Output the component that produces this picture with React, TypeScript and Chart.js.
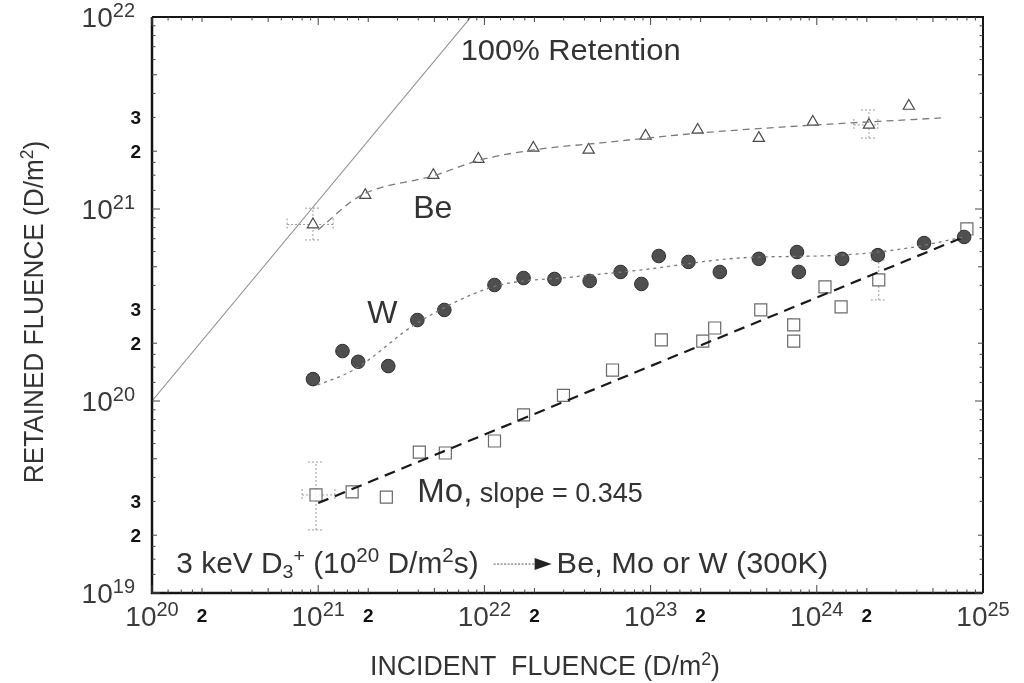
import React, { useEffect, useRef } from "react";
import { Chart, registerables } from "chart.js";

Chart.register(...registerables);

// ---------- data ----------
const beX = [9.3e20, 1.92e21, 4.93e21, 9.2e21, 1.97e22, 4.24e22, 9.33e22, 1.92e23, 4.48e23, 9.46e23, 2.06e24, 3.58e24];
const beY = [8.3e20, 1.18e21, 1.5e21, 1.82e21, 2.08e21, 2.03e21, 2.4e21, 2.58e21, 2.34e21, 2.84e21, 2.74e21, 3.44e21];

const wX = [9.3e20, 1.4e21, 1.74e21, 2.64e21, 3.95e21, 5.74e21, 1.15e22, 1.72e22, 2.64e22, 4.3e22, 6.6e22, 8.8e22, 1.12e23, 1.69e23, 2.61e23, 4.48e23, 7.6e23, 7.8e23, 1.42e24, 2.33e24, 4.42e24, 7.7e24];
const wY = [1.3e20, 1.82e20, 1.6e20, 1.52e20, 2.64e20, 2.98e20, 4.02e20, 4.37e20, 4.32e20, 4.22e20, 4.7e20, 4.07e20, 5.69e20, 5.3e20, 4.7e20, 5.5e20, 5.97e20, 4.7e20, 5.5e20, 5.75e20, 6.65e20, 7.15e20];

const moX = [9.7e20, 1.6e21, 2.57e21, 4.06e21, 5.82e21, 1.15e22, 1.72e22, 2.99e22, 5.9e22, 1.16e23, 2.06e23, 2.43e23, 4.6e23, 7.26e23, 7.26e23, 1.12e24, 1.4e24, 2.36e24, 8.0e24];
const moY = [3.24e19, 3.36e19, 3.16e19, 5.42e19, 5.36e19, 6.19e19, 8.46e19, 1.07e20, 1.45e20, 2.08e20, 2.05e20, 2.4e20, 2.98e20, 2.49e20, 2.05e20, 3.93e20, 3.09e20, 4.27e20, 7.87e20];

// fitted curves
const beFitX = [1.0e21, 1.79e21, 4.93e21, 9.46e21, 1.97e22, 5.0e22, 2.0e23, 8.0e23, 5.58e24];
const beFitY = [7.8e20, 1.17e21, 1.49e21, 1.8e21, 2.03e21, 2.21e21, 2.49e21, 2.71e21, 2.98e21];

const wFitX = [9.9e20, 1.63e21, 3.95e21, 1.13e22, 3.44e22, 8.7e22, 3.48e23, 1.4e24, 3.53e24, 7.7e24];
const wFitY = [1.21e20, 1.45e20, 2.55e20, 3.93e20, 4.43e20, 4.81e20, 5.56e20, 5.75e20, 6.26e20, 7.15e20];

const moFitX = [1.0e21, 7.9e24];
const moFitY = [2.94e19, 7.23e20];

const retentionX = [1.0e20, 8.3e21];
const retentionY = [1.0e20, 1.0e22];

// error bars: [x, y, xLo, xHi, yLo, yHi]
const errorBars = [
  [9.3e20, 8.3e20, 6.5e20, 1.23e21, 6.9e20, 1.01e21],
  [9.7e20, 3.24e19, 8.0e20, 1.26e21, 2.13e19, 4.81e19],
  [2.06e24, 2.74e21, 1.67e24, 2.33e24, 2.34e21, 3.28e21],
  [2.36e24, 4.27e20, 2.2e24, 2.5e24, 3.36e20, 5.42e20],
];

// axis tick labels
const xDecades = [20, 21, 22, 23, 24, 25];
const xTwoLabels = [20, 21, 22, 23, 24];
const yDecades = [19, 20, 21, 22];
const yMinorLabels = [
  [19, 3], [19, 2], [20, 3], [20, 2], [21, 3], [21, 2],
];

const xTitle = "INCIDENT  FLUENCE (D/m";
const yTitle = "RETAINED FLUENCE (D/m";

const FAM = '"Liberation Sans", Arial, Helvetica, sans-serif';

type Seg = { t: string; s: number; dy?: number; b?: boolean };

function segFont(g: Seg) {
  return `${g.b ? "bold " : ""}${g.s}px ${FAM}`;
}
function richWidth(ctx: CanvasRenderingContext2D, segs: Seg[]) {
  let w = 0;
  for (const g of segs) {
    ctx.font = segFont(g);
    w += ctx.measureText(g.t).width;
  }
  return w;
}
function drawRich(
  ctx: CanvasRenderingContext2D,
  segs: Seg[],
  x: number,
  y: number,
  align: "left" | "center" | "right",
  sx = 1
) {
  const w = richWidth(ctx, segs) * sx;
  const start = align === "center" ? x - w / 2 : align === "right" ? x - w : x;
  ctx.save();
  ctx.textAlign = "left";
  ctx.textBaseline = "alphabetic";
  ctx.translate(start, y);
  ctx.scale(sx, 1);
  let px = 0;
  for (const g of segs) {
    ctx.font = segFont(g);
    ctx.fillText(g.t, px, g.dy || 0);
    px += ctx.measureText(g.t).width;
  }
  ctx.restore();
  return w;
}

const pts = (xs: number[], ys: number[]) => xs.map((x, i) => ({ x, y: ys[i] }));

const decorPlugin = {
  id: "decor",
  beforeDatasetsDraw(chart: any) {
    const ctx: CanvasRenderingContext2D = chart.ctx;
    const xs = chart.scales.x;
    const ys = chart.scales.y;
    ctx.save();
    ctx.strokeStyle = "#9a9a9a";
    ctx.lineWidth = 1;
    ctx.setLineDash([2, 2]);
    for (const e of errorBars) {
      const [x, y, xLo, xHi, yLo, yHi] = e;
      const px = xs.getPixelForValue(x);
      const py = ys.getPixelForValue(y);
      const pxl = xs.getPixelForValue(xLo);
      const pxh = xs.getPixelForValue(xHi);
      const pyl = ys.getPixelForValue(yLo);
      const pyh = ys.getPixelForValue(yHi);
      ctx.beginPath();
      ctx.moveTo(px, pyl);
      ctx.lineTo(px, pyh);
      ctx.moveTo(pxl, py);
      ctx.lineTo(pxh, py);
      ctx.moveTo(px - 8, pyl);
      ctx.lineTo(px + 8, pyl);
      ctx.moveTo(px - 8, pyh);
      ctx.lineTo(px + 8, pyh);
      ctx.moveTo(pxl, py - 6);
      ctx.lineTo(pxl, py + 6);
      ctx.moveTo(pxh, py - 6);
      ctx.lineTo(pxh, py + 6);
      ctx.stroke();
    }
    ctx.restore();
  },
  afterDraw(chart: any) {
    const ctx: CanvasRenderingContext2D = chart.ctx;
    const xs = chart.scales.x;
    const ys = chart.scales.y;
    const a = chart.chartArea;
    ctx.save();

    // frame
    ctx.strokeStyle = "#151515";
    ctx.setLineDash([]);
    ctx.lineWidth = 2.5;
    ctx.beginPath();
    ctx.moveTo(a.left, a.top);
    ctx.lineTo(a.left, a.bottom);
    ctx.lineTo(a.right, a.bottom);
    ctx.stroke();
    ctx.lineWidth = 2;
    ctx.beginPath();
    ctx.moveTo(a.left, a.top);
    ctx.lineTo(a.right, a.top);
    ctx.lineTo(a.right, a.bottom);
    ctx.stroke();

    // inner ticks
    const mults = [1, 1.25, 1.5, 1.75, 2, 3, 4, 5, 6, 7, 8, 9];
    ctx.strokeStyle = "#444";
    ctx.lineWidth = 1;
    ctx.beginPath();
    for (let d = 20; d < 25; d++) {
      for (const m of mults) {
        const v = m * Math.pow(10, d);
        const px = xs.getPixelForValue(v);
        const len = m === 1 ? 8 : m === 2 || m === 5 ? 5 : 3.5;
        ctx.moveTo(px, a.bottom);
        ctx.lineTo(px, a.bottom - len);
        ctx.moveTo(px, a.top);
        ctx.lineTo(px, a.top + len);
      }
    }
    for (let d = 19; d < 22; d++) {
      for (const m of mults) {
        const v = m * Math.pow(10, d);
        const py = ys.getPixelForValue(v);
        const len = m === 1 ? 8 : m === 2 || m === 5 ? 5 : 3.5;
        ctx.moveTo(a.left, py);
        ctx.lineTo(a.left + len, py);
        ctx.moveTo(a.right, py);
        ctx.lineTo(a.right - len, py);
      }
    }
    ctx.stroke();

    // tick labels
    ctx.fillStyle = "#3a3a3a";
    for (const k of xDecades) {
      const px = xs.getPixelForValue(Math.pow(10, k));
      drawRich(ctx, [{ t: "10", s: 28 }, { t: String(k), s: 20, dy: -10 }], px, a.bottom + 33, "center");
    }
    ctx.fillStyle = "#111";
    for (const k of xTwoLabels) {
      const px = xs.getPixelForValue(2 * Math.pow(10, k));
      drawRich(ctx, [{ t: "2", s: 19, b: true }], px, a.bottom + 29, "center");
    }
    ctx.fillStyle = "#3a3a3a";
    for (const k of yDecades) {
      const py = ys.getPixelForValue(Math.pow(10, k));
      drawRich(ctx, [{ t: "10", s: 28 }, { t: String(k), s: 20, dy: -10 }], a.left - 17, py + 10, "right");
    }
    ctx.fillStyle = "#111";
    for (const [k, m] of yMinorLabels) {
      const py = ys.getPixelForValue(m * Math.pow(10, k));
      drawRich(ctx, [{ t: String(m), s: 19, b: true }], a.left - 11, py + 7, "right");
    }

    // axis titles
    ctx.fillStyle = "#333";
    drawRich(ctx, [{ t: xTitle, s: 27 }, { t: "2", s: 18, dy: -10 }, { t: ")", s: 27 }], 545, a.bottom + 82, "center", 0.99);
    ctx.save();
    ctx.translate(43, 312);
    ctx.rotate(-Math.PI / 2);
    drawRich(ctx, [{ t: yTitle, s: 27 }, { t: "2", s: 18, dy: -10 }, { t: ")", s: 27 }], 0, 0, "center", 0.97);
    ctx.restore();

    // annotations
    ctx.fillStyle = "#333";
    drawRich(ctx, [{ t: "100% Retention", s: 30 }], xs.getPixelForValue(7.2e21), ys.getPixelForValue(5.97e21), "left", 1.03);
    drawRich(ctx, [{ t: "Be", s: 32 }], xs.getPixelForValue(3.73e21), ys.getPixelForValue(8.97e20), "left");
    drawRich(ctx, [{ t: "W", s: 32 }], xs.getPixelForValue(1.97e21), ys.getPixelForValue(2.55e20), "left");
    drawRich(
      ctx,
      [{ t: "Mo,", s: 33 }, { t: " slope = 0.345", s: 27 }],
      xs.getPixelForValue(3.95e21),
      ys.getPixelForValue(2.98e19),
      "left"
    );

    const bx = xs.getPixelForValue(1.4e20);
    const by = ys.getPixelForValue(1.27e19);
    const w1 = drawRich(
      ctx,
      [
        { t: "3 keV D", s: 29 },
        { t: "3", s: 19, dy: 5 },
        { t: "+", s: 19, dy: -11 },
        { t: " (10", s: 29 },
        { t: "20", s: 20, dy: -11 },
        { t: " D/m", s: 29 },
        { t: "2", s: 20, dy: -11 },
        { t: "s)", s: 29 },
      ],
      bx,
      by,
      "left",
      1.03
    );
    const ax0 = bx + w1 + 15;
    const ax1 = ax0 + 58;
    const ay = by - 9;
    ctx.strokeStyle = "#555";
    ctx.lineWidth = 1;
    ctx.setLineDash([2, 1.5]);
    ctx.beginPath();
    ctx.moveTo(ax0, ay);
    ctx.lineTo(ax1 - 14, ay);
    ctx.stroke();
    ctx.setLineDash([]);
    ctx.fillStyle = "#222";
    ctx.beginPath();
    ctx.moveTo(ax1, ay);
    ctx.lineTo(ax1 - 17, ay - 6);
    ctx.lineTo(ax1 - 17, ay + 6);
    ctx.closePath();
    ctx.fill();
    ctx.fillStyle = "#333";
    drawRich(ctx, [{ t: "Be, Mo or W (300K)", s: 29 }], ax1 + 5, by, "left", 1.06);

    ctx.restore();
  },
};

export default function App() {
  const ref = useRef<HTMLCanvasElement | null>(null);

  useEffect(() => {
    if (!ref.current) return;
    const chart = new Chart(ref.current, {
      type: "scatter",
      data: {
        datasets: [
          {
            label: "100% Retention",
            data: pts(retentionX, retentionY),
            showLine: true,
            borderColor: "#8c8c8c",
            borderWidth: 1.1,
            pointRadius: 0,
          },
          {
            label: "Be fit",
            data: pts(beFitX, beFitY),
            showLine: true,
            borderColor: "#7a7a7a",
            borderWidth: 1.3,
            borderDash: [7, 5],
            cubicInterpolationMode: "monotone",
            pointRadius: 0,
          },
          {
            label: "W fit",
            data: pts(wFitX, wFitY),
            showLine: true,
            borderColor: "#7a7a7a",
            borderWidth: 1.3,
            borderDash: [3, 4],
            cubicInterpolationMode: "monotone",
            pointRadius: 0,
          },
          {
            label: "Mo fit",
            data: pts(moFitX, moFitY),
            showLine: true,
            borderColor: "#1a1a1a",
            borderWidth: 2.2,
            borderDash: [11, 7],
            pointRadius: 0,
          },
          {
            label: "Be",
            data: pts(beX, beY),
            showLine: false,
            pointStyle: "triangle",
            pointRadius: 6.5,
            backgroundColor: "rgba(255,255,255,0.9)",
            borderColor: "#4a4a4a",
            borderWidth: 1.2,
          },
          {
            label: "W",
            data: pts(wX, wY),
            showLine: false,
            pointStyle: "circle",
            pointRadius: 6.8,
            backgroundColor: "#4f4f4f",
            borderColor: "#2e2e2e",
            borderWidth: 1,
          },
          {
            label: "Mo",
            data: pts(moX, moY),
            showLine: false,
            pointStyle: "rect",
            pointRadius: 8.5,
            backgroundColor: "rgba(255,255,255,0.85)",
            borderColor: "#6a6a6a",
            borderWidth: 1.2,
          },
        ],
      },
      options: {
        animation: false,
        responsive: false,
        maintainAspectRatio: false,
        layout: { padding: { left: 152, right: 41, top: 17, bottom: 90 } },
        plugins: {
          legend: { display: false },
          tooltip: { enabled: false },
        },
        elements: { point: { hoverRadius: 6.5 } },
        scales: {
          x: { type: "logarithmic", min: 1e20, max: 1e25, display: false },
          y: { type: "logarithmic", min: 1e19, max: 1e22, display: false },
        },
      },
      plugins: [decorPlugin],
    });
    return () => chart.destroy();
  }, []);

  return (
    <div style={{ position: "absolute", left: 0, top: 0, width: 1024, height: 683, background: "#fff" }}>
      <canvas ref={ref} width={1024} height={683} />
    </div>
  );
}
